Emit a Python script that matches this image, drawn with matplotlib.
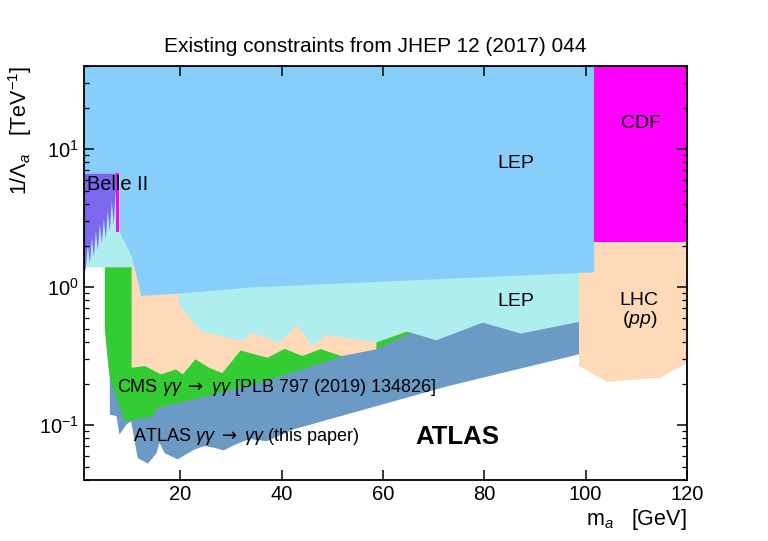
import matplotlib
matplotlib.use('Agg')
import matplotlib.pyplot as plt
from matplotlib.ticker import LogLocator, FixedLocator, NullFormatter

plt.rcParams['font.family'] = ['Liberation Sans', 'DejaVu Sans']
plt.rcParams['mathtext.fontset'] = 'custom'
plt.rcParams['mathtext.rm'] = 'Liberation Sans'
plt.rcParams['mathtext.it'] = 'Liberation Sans:italic'
plt.rcParams['mathtext.bf'] = 'Liberation Sans:bold'
plt.rcParams['mathtext.sf'] = 'DejaVu Sans'

# ATLAS gamma gamma -> gamma gamma: lower edge of the excluded band
atlas_x = [6.0, 7.3, 7.9, 9.3, 10.2, 11.5, 13.5, 15.2, 15.8, 16.8, 19.4, 22.7,
           24.6, 26.6, 28.5, 30.5, 33.5, 37.0, 42.3, 72.7, 98.6]
atlas_y = [0.12, 0.117, 0.086, 0.102, 0.107, 0.058, 0.053, 0.063, 0.075, 0.063,
           0.057, 0.067, 0.071, 0.069, 0.066, 0.072, 0.080, 0.077, 0.094, 0.193, 0.328]

# CMS gamma gamma -> gamma gamma: lower edge
cms_x = [5.0, 5.3, 5.7, 6.0, 8.9, 14.5, 15.2, 19.7, 35.4, 49.2, 51.8, 53.0,
         58.0, 58.6, 65.5]
cms_y = [0.51, 0.38, 0.27, 0.222, 0.107, 0.117, 0.134, 0.146, 0.204, 0.294,
         0.319, 0.36, 0.38, 0.357, 0.47]

# LHC (pp): low-mass part and high-mass part, lower edges
lhc1_x = [10.3, 12.9, 16.1, 19.1, 20.4, 22.9, 25.6, 28.2, 31.8, 37.1, 40.5,
          44.0, 47.6, 51.4, 51.8, 58.6]
lhc1_y = [0.262, 0.27, 0.235, 0.255, 0.235, 0.302, 0.262, 0.24, 0.35, 0.31,
          0.36, 0.319, 0.358, 0.322, 0.319, 0.357]
lhc2_x = [98.6, 104.1, 114.6, 120.0]
lhc2_y = [0.27, 0.207, 0.222, 0.285]

# LEP, lower region (pale) and upper region, lower edges
lep1_x = [1.0, 10.7, 19.7, 19.7, 24.0, 32.1, 34.1, 39.4, 43.0, 45.9, 48.8,
          58.6, 64.5, 65.5, 70.4, 79.6, 87.1, 98.6]
lep1_y = [1.4, 1.4, 1.4, 0.74, 0.485, 0.41, 0.47, 0.40, 0.535, 0.378, 0.454,
          0.40, 0.478, 0.47, 0.415, 0.557, 0.464, 0.564]
lep2_x = [1.0, 7.95, 7.95, 10.4, 12.2, 19.7, 33.5, 101.6]
lep2_y = [6.69, 6.69, 2.52, 1.66, 0.87, 0.905, 1.0, 1.29]

# CDF
cdf_x = [101.6, 120.0]
cdf_lo = 2.13

# Belle II (spiky lower edge) and the narrow magenta strip
belle_x = [1.0, 1.2, 1.67, 2.06, 2.45, 2.85, 3.24, 3.63, 4.02, 4.42, 4.81,
           5.2, 5.59, 5.99, 6.38, 6.77, 7.16, 7.42, 7.75]
belle_y = [1.35, 1.32, 2.07, 1.48, 2.31, 1.66, 2.59, 1.85, 2.90, 2.07, 3.15,
           2.25, 3.62, 2.52, 4.27, 2.81, 5.06, 3.24, 3.5]
belle_hi = 6.69
strip_x = [7.22, 7.95]
strip_lo = 2.52

top = 50

fig = plt.figure(figsize=(7.68, 5.41), dpi=100)
ax = fig.add_axes([0.1094, 0.1128, 0.7851, 0.7652])

ax.fill_between(atlas_x, atlas_y, top, color='#6b9ac4', lw=0)
ax.fill_between(cms_x, cms_y, top, color='#33cc33', lw=0)
ax.fill_between(lhc1_x, lhc1_y, top, color='#ffdab9', lw=0)
ax.fill_between(lhc2_x, lhc2_y, top, color='#ffdab9', lw=0)
ax.fill_between(lep1_x, lep1_y, top, color='#afeeee', lw=0)
ax.fill_between(lep2_x, lep2_y, top, color='#87cefa', lw=0)
ax.fill_between(cdf_x, cdf_lo, top, color='#ff00ff', lw=0)
ax.fill_between(belle_x, belle_y, belle_hi, color='#7b68ee', lw=0)
ax.fill_between(strip_x, strip_lo, belle_hi, color='#ff00ff', lw=0)

ax.set_xlim(1, 120)
ax.set_ylim(0.04, 40)
ax.set_yscale('log')

ax.xaxis.set_major_locator(FixedLocator([20, 40, 60, 80, 100, 120]))
ax.yaxis.set_major_locator(LogLocator(base=10))
ax.yaxis.set_minor_locator(LogLocator(base=10, subs=range(2, 10)))
ax.yaxis.set_minor_formatter(NullFormatter())
ax.tick_params(which='both', direction='in', top=True, right=True, labelsize=14.5)
ax.tick_params(which='major', length=7, width=1.1)
ax.tick_params(which='minor', length=3.5, width=0.9)
for s in ax.spines.values():
    s.set_linewidth(1.3)

ax.set_xlabel(r'm$_a$   [GeV]', fontsize=15.5, loc='right', labelpad=2)
ax.set_ylabel(r'1/$\Lambda_a$   [TeV$^{-1}$]', fontsize=15.5, loc='top', labelpad=4)

arrow = r'$\mathsf{\rightarrow}$'
ax.text(1.6, 5.5, 'Belle II', fontsize=14.4, va='center')
ax.text(86.3, 7.8, 'LEP', fontsize=14, ha='center', va='center')
ax.text(86.3, 0.787, 'LEP', fontsize=14, ha='center', va='center')
ax.text(111, 15.2, 'CDF', fontsize=14, ha='center', va='center')
ax.text(110.6, 0.675, 'LHC\n($pp$)', fontsize=14, ha='center', va='center',
        linespacing=1.0)
ax.text(7.6, 0.187, r'CMS $\gamma\gamma$ ' + arrow + r' $\gamma\gamma$ [PLB 797 (2019) 134826]',
        fontsize=13, va='center')
ax.text(10.7, 0.082, r'ATLAS $\gamma\gamma$ ' + arrow + r' $\gamma\gamma$ (this paper)',
        fontsize=13, va='center')
ax.text(74.7, 0.082, 'ATLAS', fontsize=18.5, fontweight='bold', ha='center', va='center')

fig.text(375 / 768, 1 - 46 / 541, 'Existing constraints from JHEP 12 (2017) 044',
         fontsize=15, ha='center', va='center')

fig.savefig('out.png', dpi=100)
